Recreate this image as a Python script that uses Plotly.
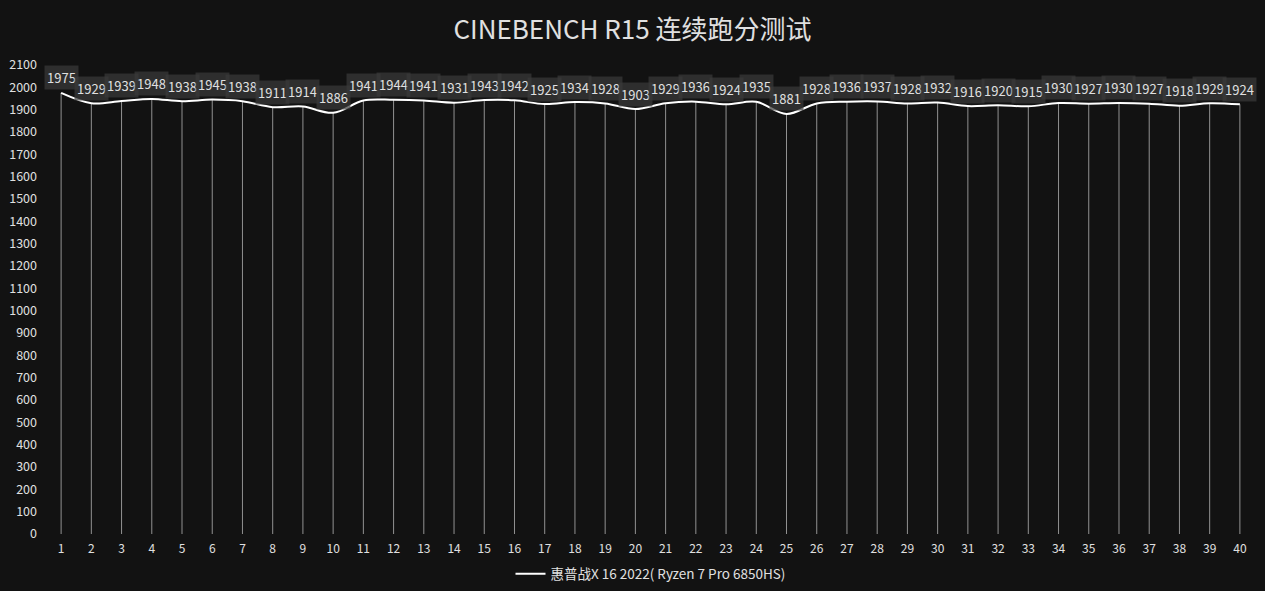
import plotly.graph_objects as go

runs = list(range(1, 41))
scores = [1975, 1929, 1939, 1948, 1938, 1945, 1938, 1911, 1914, 1886,
          1941, 1944, 1941, 1931, 1943, 1942, 1925, 1934, 1928, 1903,
          1929, 1936, 1924, 1935, 1881, 1928, 1936, 1937, 1928, 1932,
          1916, 1920, 1915, 1930, 1927, 1930, 1927, 1918, 1929, 1924]
y_ticks = list(range(0, 2101, 100))
series_name = "惠普战X 16 2022( Ryzen 7 Pro 6850HS)"
title = "CINEBENCH R15 连续跑分测试"

FONT = "Noto Sans CJK SC, Noto Sans, sans-serif"

drop_x, drop_y = [], []
for x, y in zip(runs, scores):
    drop_x += [x, x, None]
    drop_y += [0, y, None]

fig = go.Figure()
fig.add_trace(go.Scatter(x=drop_x, y=drop_y, mode="lines",
                         line=dict(color="rgba(200,200,200,0.7)", width=1),
                         showlegend=False, hoverinfo="skip"))
fig.add_trace(go.Scatter(x=runs, y=scores, mode="lines", name=series_name,
                         line=dict(color="#ffffff", width=2, shape="spline", smoothing=1)))

for x, y in zip(runs, scores):
    fig.add_annotation(x=x, y=y, text=str(y), showarrow=False, yshift=15,
                       font=dict(size=13, color="#e0e0e0", family=FONT),
                       bgcolor="rgba(58,58,58,0.7)", borderpad=2)

fig.update_layout(
    width=1265, height=591,
    paper_bgcolor="#121212", plot_bgcolor="#121212",
    margin=dict(l=46, r=10, t=65, b=57, autoexpand=False),
    title=dict(text=title, x=0.5, xanchor="center", y=0.95, yanchor="middle",
               font=dict(size=26, color="#e0e0e0", family=FONT)),
    font=dict(family=FONT, color="#e0e0e0"),
    xaxis=dict(range=[0.5, 40.5], tickmode="array", tickvals=runs,
               ticktext=[str(r) for r in runs], showgrid=False, zeroline=False,
               showline=False, ticks="", tickfont=dict(size=12, color="#e0e0e0"),
               ticklabelstandoff=6),
    yaxis=dict(range=[0, 2100], tickmode="array", tickvals=y_ticks,
               showgrid=False, zeroline=False, showline=False, ticks="",
               tickfont=dict(size=12.5, color="#e0e0e0"), ticklabelstandoff=8),
    legend=dict(orientation="h", x=0.5, xanchor="center",
                yref="container", y=0.029, yanchor="middle",
                font=dict(size=13.5, color="#e0e0e0", family=FONT),
                bgcolor="rgba(0,0,0,0)", itemwidth=30),
    showlegend=True,
)

fig.write_html("out.html", config={"displayModeBar": False},
               post_script="document.body.style.margin='0';document.body.style.background='#121212';")
